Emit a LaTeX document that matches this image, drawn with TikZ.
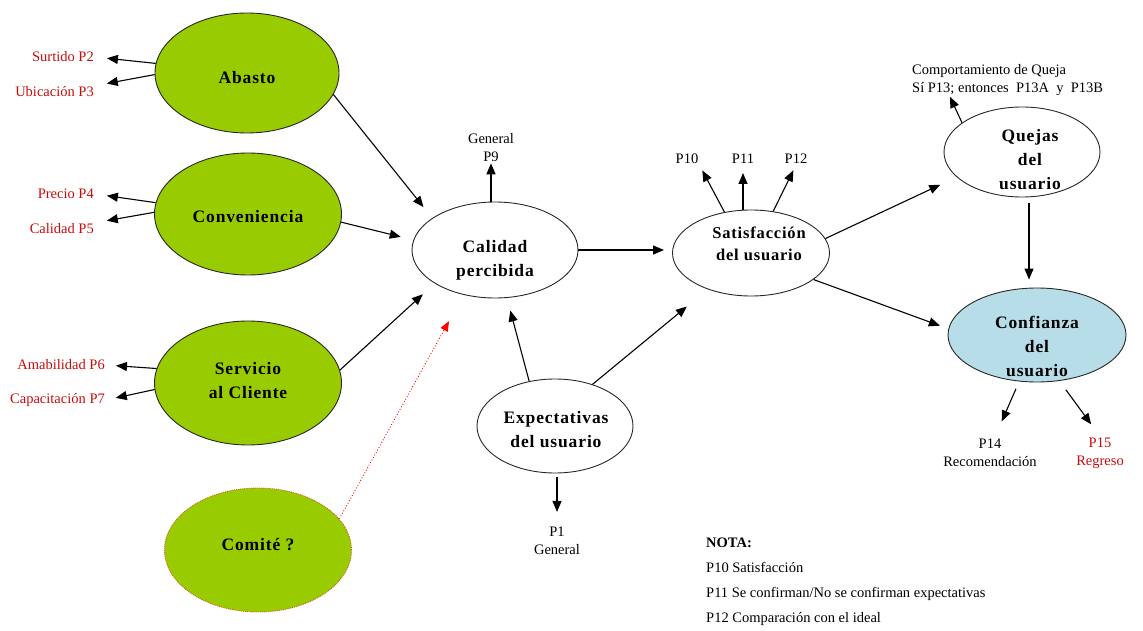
\documentclass[tikz,border=0pt]{standalone}
\usepackage{fontspec}
\setmainfont{Liberation Serif}
\newfontfamily\headfont{Liberation Serif}[LetterSpace=5]
\usetikzlibrary{shapes.geometric,arrows.meta}
\definecolor{leaf}{RGB}{153,204,0}
\definecolor{sky}{RGB}{183,221,232}
\definecolor{tagred}{RGB}{200,12,12}
\definecolor{rim}{RGB}{40,40,40}
\definecolor{dotrim}{RGB}{205,95,25}
\begin{document}
\begin{tikzpicture}[x=1pt,y=-1pt,
  factor/.style={ellipse, draw=rim, line width=0.9pt, fill=leaf, inner sep=0pt},
  construct/.style={ellipse, draw=rim, line width=0.9pt, fill=white, inner sep=0pt},
  head/.style={font=\headfont\bfseries\fontsize{17.5}{24}\selectfont, align=center, inner sep=0pt},
  tag/.style={font=\fontsize{14.5}{18}\selectfont, inner sep=1pt},
  redtag/.style={tag, text=tagred},
  link/.style={draw=black, line width=1.1pt, -{Triangle[length=11pt,width=9pt]}},
  hint/.style={draw=red, dotted, line width=0.9pt, -{Triangle[length=10pt,width=8pt]}}
]
\useasboundingbox (0,0) rectangle (1143,631);

% antecedents (green)
\node[factor, minimum width=184pt, minimum height=120pt] (abasto) at (247,73) {};
\node[head] (abasto-t) at (247,78) {Abasto};
\node[factor, minimum width=187pt, minimum height=122pt] (conv) at (248,214) {};
\node[head] (conv-t) at (248,217) {Conveniencia};
\node[factor, minimum width=187pt, minimum height=124pt] (serv) at (248,383) {};
\node[head] (serv-t) at (248,381) {Servicio\\al Cliente};
\node[factor, draw=dotrim, densely dotted, minimum width=187pt, minimum height=124pt] (comite) at (258,550) {};
\node[head] (comite-t) at (258,545) {Comité ?};

% central constructs
\node[construct, minimum width=166pt, minimum height=96pt] (calidad) at (495,250) {};
\node[head] (calidad-t) at (495,260) {Calidad\\percibida};
\node[construct, minimum width=157pt, minimum height=86pt] (satis) at (751,253) {};
\node[head, font=\headfont\bfseries\fontsize{16.5}{22}\selectfont] (satis-t) at (759,244) {Satisfacción\\del usuario};
\node[construct, minimum width=156pt, minimum height=94pt] (expect) at (555,426) {};
\node[head] (expect-t) at (556,430) {Expectativas\\del usuario};
\node[construct, minimum width=156pt, minimum height=90pt] (quejas) at (1022,152) {};
\node[head] (quejas-t) at (1030,160) {Quejas\\del\\usuario};
\node[construct, fill=sky, minimum width=178pt, minimum height=94pt] (confianza) at (1037,335) {};
\node[head] (confianza-t) at (1037,346) {Confianza\\del\\usuario};

% item labels
\node[redtag, anchor=east] (surtido) at (95,57) {Surtido P2};
\node[redtag, anchor=east] (ubic) at (95,92) {Ubicación P3};
\node[redtag, anchor=east] (precio) at (95,194) {Precio P4};
\node[redtag, anchor=east] (calp5) at (95,229) {Calidad P5};
\node[redtag, anchor=east] (amab) at (106,365) {Amabilidad P6};
\node[redtag, anchor=east] (capac) at (106,400) {Capacitación P7};

\node[tag, align=center] (p9) at (491,148) {General\\P9};
\node[tag] (p10) at (687,159) {P10};
\node[tag] (p11) at (743,159) {P11};
\node[tag] (p12) at (796,159) {P12};
\node[tag, align=center] (p1) at (557,541) {P1\\General};
\node[tag, align=left, anchor=west] (queja) at (911,80) {Comportamiento de Queja\\Sí P13; entonces\ \ P13A\ \ y\ \ P13B};
\node[tag, align=center] (p14) at (990,453) {P14\\Recomendación};
\node[redtag, align=center] (p15) at (1100,453) {P15\\Regreso};

% note
\node[tag, anchor=west, font=\fontsize{14.5}{18}\selectfont\bfseries] (nota) at (705,543) {NOTA:};
\node[tag, anchor=west] (n10) at (705,567) {P10 Satisfacción};
\node[tag, anchor=west] (n11) at (705,594) {P11 Se confirman/No se confirman expectativas};
\node[tag, anchor=west] (n12) at (705,619) {P12 Comparación con el ideal};

% indicator arrows
\draw[link, shorten >=12pt] (abasto.174) -- (surtido.east);
\draw[link, shorten >=12pt] (abasto.181) -- (ubic.north east);
\draw[link, shorten >=12pt] (conv.173) -- (precio.east);
\draw[link, shorten >=12pt] (conv.179) -- (calp5.north east);
\draw[link, shorten >=10pt] (serv.171) -- (amab.east);
\draw[link, shorten >=10pt] (serv.184) -- (capac.east);

% paths into perceived quality
\draw[link, shorten >=14pt] (abasto.-14) -- (calidad.153);
\draw[link, shorten >=13pt] (conv.-5) -- (calidad.173);
\draw[link, shorten >=16pt] (serv.8) -- (calidad.209);
\draw[hint, shorten >=30pt] (comite.21) -- (calidad.235.6);
\draw[link] (calidad.north -| p9) -- (p9.south);

% satisfaction
\draw[link, shorten >=8pt] (calidad.east) -- (calidad.east -| satis.west);
\draw[link, shorten >=6pt] (satis.123) -- (p10.south east);
\draw[link, shorten >=8pt] (satis.north -| p11) -- (p11.south);
\draw[link, shorten >=6pt] (satis.62) -- (p12.south);

% expectations
\draw[link, shorten >=13pt] (expect.120) -- (calidad.284);
\draw[link, shorten >=27pt] (expect.48) -- (satis.220);
\draw[link, shorten <=4pt, shorten >=14pt] (expect.south -| p1) -- (p1.north);

% complaints and trust
\draw[link, shorten >=18pt] (satis.11.5) -- (quejas.201);
\draw[link, shorten >=9pt] (satis.-23) -- (confianza.176);
\coordinate (qdrop) at ([xshift=7pt]quejas.south);
\draw[link, shorten <=6pt, shorten >=8pt] (qdrop) -- (qdrop |- confianza.north);
\draw[link] (quejas.154) -- ([xshift=39pt]queja.south west);
\draw[link, shorten <=8pt, shorten >=18pt] (confianza.-111) -- ([xshift=4.5pt]p14.north);
\draw[link, shorten <=11pt, shorten >=15pt] (confianza.-64) -- (p15.north);
\end{tikzpicture}
\end{document}
